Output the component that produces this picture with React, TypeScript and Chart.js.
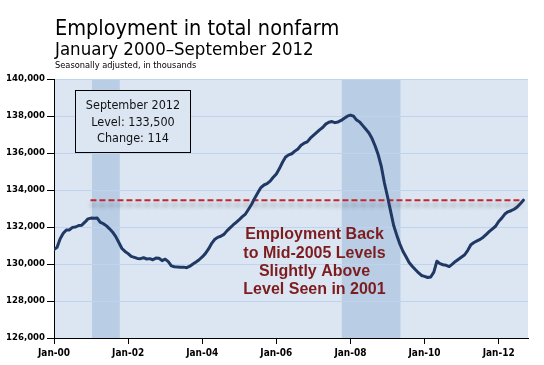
import React, { useEffect, useRef } from 'react';
import { Chart, registerables } from 'chart.js';

Chart.register(...registerables);

// Total nonfarm employment, thousands, seasonally adjusted
const emp2000 = [130780, 130900, 131370, 131660, 131840, 131840, 131980, 132000, 132080, 132100, 132260, 132440];
const emp2001 = [132480, 132470, 132480, 132250, 132180, 132060, 131900, 131720, 131480, 131160, 130840, 130680];
const emp2002 = [130560, 130410, 130360, 130300, 130290, 130340, 130270, 130290, 130230, 130320, 130310, 130180];
const emp2003 = [130260, 130130, 129900, 129850, 129840, 129830, 129830, 129800, 129880, 130000, 130110, 130230];
const emp2004 = [130380, 130560, 130800, 131100, 131320, 131440, 131500, 131600, 131790, 131950, 132110, 132250];
const emp2005 = [132400, 132560, 132700, 132960, 133230, 133560, 133850, 134130, 134270, 134340, 134480, 134690];
const emp2006 = [134870, 135160, 135500, 135780, 135900, 135960, 136100, 136220, 136420, 136530, 136600, 136800];
const emp2007 = [136950, 137100, 137250, 137380, 137560, 137660, 137700, 137640, 137680, 137760, 137880, 137990];
const emp2008 = [138050, 137990, 137780, 137680, 137480, 137280, 137080, 136780, 136380, 135900, 135270, 134380];
const emp2009 = [133650, 132860, 132080, 131560, 131080, 130690, 130390, 130080, 129880, 129700, 129530, 129380];
const emp2010 = [129330, 129270, 129300, 129560, 130150, 130020, 129960, 129930, 129860, 129990, 130140, 130260];
const emp2011 = [130380, 130500, 130740, 131040, 131160, 131250, 131330, 131450, 131600, 131760, 131900, 132040];
const emp2012 = [132300, 132480, 132700, 132820, 132880, 132960, 133080, 133260, 133450];

const employment = [
  ...emp2000, ...emp2001, ...emp2002, ...emp2003, ...emp2004, ...emp2005, ...emp2006,
  ...emp2007, ...emp2008, ...emp2009, ...emp2010, ...emp2011, ...emp2012,
];

// x axis: months since January 2000
const xTickMonths = [0, 24, 48, 72, 96, 120, 144];
const xTickLabels = ['Jan-00', 'Jan-02', 'Jan-04', 'Jan-06', 'Jan-08', 'Jan-10', 'Jan-12'];
const xMin = 0;
const xMax = 153.5;

const yMin = 126000;
const yMax = 140000;
const yStep = 2000;

// Recession shading (months since Jan 2000)
const recessionStarts = [12.3, 93.2];
const recessionEnds = [21.3, 112.2];

// Reference line (current level)
const refLevel = 133450;
const refStart = 11.8;
const refEnd = 152;

const titleLines = ['Employment in total nonfarm', 'January 2000\u2013September 2012', 'Seasonally adjusted, in thousands'];
const boxLines = ['September 2012', 'Level: 133,500', 'Change: 114'];
const noteLines = ['Employment Back', 'to Mid-2005 Levels', 'Slightly Above', 'Level Seen in 2001'];

const FONT = '"DejaVu Sans Condensed", "DejaVu Sans", sans-serif';
const ARIAL = '"Liberation Sans", Arial, sans-serif';
const PLOT_BG = '#dce6f2';
const SHADE = '#b9cde5';

export default function App() {
  const ref = useRef<HTMLCanvasElement>(null);

  useEffect(() => {
    document.body.style.margin = '0';
    const canvas = ref.current!;

    const bgPlugin = {
      id: 'bgShade',
      beforeDraw(chart: any) {
        const { ctx, chartArea: a, scales } = chart;
        const x = scales.x;
        ctx.save();
        ctx.fillStyle = '#ffffff';
        ctx.fillRect(0, 0, chart.width, chart.height);
        ctx.fillStyle = PLOT_BG;
        ctx.fillRect(a.left, a.top, a.right - a.left, a.bottom - a.top);
        ctx.fillStyle = SHADE;
        for (let i = 0; i < recessionStarts.length; i++) {
          const x0 = x.getPixelForValue(recessionStarts[i]);
          const x1 = x.getPixelForValue(recessionEnds[i]);
          ctx.fillRect(x0, a.top, x1 - x0, a.bottom - a.top);
        }
        ctx.restore();
      },
    };

    const shadowPlugin = {
      id: 'refShadow',
      beforeDatasetDraw(chart: any, args: any) {
        if (args.index === 1) {
          const ctx = chart.ctx;
          ctx.save();
          ctx.shadowColor = 'rgba(0,0,0,0.35)';
          ctx.shadowBlur = 4;
          ctx.shadowOffsetY = 5;
        }
      },
      afterDatasetDraw(chart: any, args: any) {
        if (args.index === 1) chart.ctx.restore();
      },
    };

    const textPlugin = {
      id: 'texts',
      afterDraw(chart: any) {
        const ctx = chart.ctx as CanvasRenderingContext2D;
        ctx.save();
        ctx.fillStyle = '#000';
        ctx.textAlign = 'left';
        ctx.textBaseline = 'alphabetic';
        ctx.font = `21.5px ${FONT}`;
        ctx.fillText(titleLines[0], 55, 35);
        ctx.font = `18.5px ${FONT}`;
        ctx.fillText(titleLines[1], 55, 55);
        ctx.font = `9.2px ${FONT}`;
        ctx.fillText(titleLines[2], 55, 68);

        // info box
        ctx.fillStyle = PLOT_BG;
        ctx.fillRect(75.5, 90.5, 115, 62);
        ctx.strokeStyle = '#000';
        ctx.lineWidth = 1;
        ctx.strokeRect(75.5, 90.5, 115, 62);
        ctx.fillStyle = '#111';
        ctx.textAlign = 'center';
        ctx.textBaseline = 'middle';
        ctx.font = `12.5px ${FONT}`;
        const boxY = [106, 122.5, 139];
        boxLines.forEach((t, i) => ctx.fillText(t, 133, boxY[i]));

        // note
        ctx.fillStyle = '#7c1c1f';
        ctx.font = `bold 16px ${ARIAL}`;
        const noteY = [235, 253.3, 271.7, 290];
        noteLines.forEach((t, i) => ctx.fillText(t, 314.5, noteY[i]));
        ctx.restore();
      },
    };

    const chart = new Chart(canvas, {
      type: 'line',
      data: {
        datasets: [
          {
            data: employment.map((v, i) => ({ x: i, y: v })),
            borderColor: '#1f3864',
            borderWidth: 3,
            pointRadius: 0,
            tension: 0,
            borderJoinStyle: 'round',
            borderCapStyle: 'round',
          },
          {
            data: [
              { x: refStart, y: refLevel },
              { x: refEnd, y: refLevel },
            ],
            borderColor: '#c3262e',
            borderWidth: 2,
            borderDash: [6, 3],
            pointRadius: 0,
          },
        ],
      },
      options: {
        responsive: false,
        animation: false,
        layout: { padding: { top: 79, right: 16, left: 0, bottom: 0 } },
        plugins: { legend: { display: false }, tooltip: { enabled: false } },
        scales: {
          x: {
            type: 'linear',
            min: xMin,
            max: xMax,
            afterBuildTicks: (s: any) => {
              s.ticks = xTickMonths.map((v) => ({ value: v }));
            },
            afterFit: (s: any) => {
              s.height = 27;
            },
            ticks: {
              autoSkip: false,
              maxRotation: 0,
              padding: 3,
              color: '#000',
              font: { family: FONT, size: 10, weight: 'bold' },
              callback: (v: any) => xTickLabels[xTickMonths.indexOf(Number(v))] ?? '',
            },
            grid: { drawOnChartArea: false, tickLength: 6, tickColor: '#000' },
            border: { color: '#000', width: 1 },
          },
          y: {
            min: yMin,
            max: yMax,
            afterFit: (s: any) => {
              s.width = 54;
            },
            ticks: {
              stepSize: yStep,
              padding: 2,
              color: '#000',
              font: { family: FONT, size: 9.5, weight: 'bold' },
              callback: (v: any) => Number(v).toLocaleString('en-US'),
            },
            grid: { color: '#bfd3ee', tickColor: '#000', tickLength: 7, lineWidth: 1 },
            border: { color: '#000', width: 1 },
          },
        },
      },
      plugins: [bgPlugin, shadowPlugin, textPlugin],
    } as any);

    return () => chart.destroy();
  }, []);

  return (
    <div style={{ position: 'absolute', left: 0, top: 0, width: 544, height: 365 }}>
      <canvas ref={ref} width={544} height={365} style={{ display: 'block' }} />
    </div>
  );
}
